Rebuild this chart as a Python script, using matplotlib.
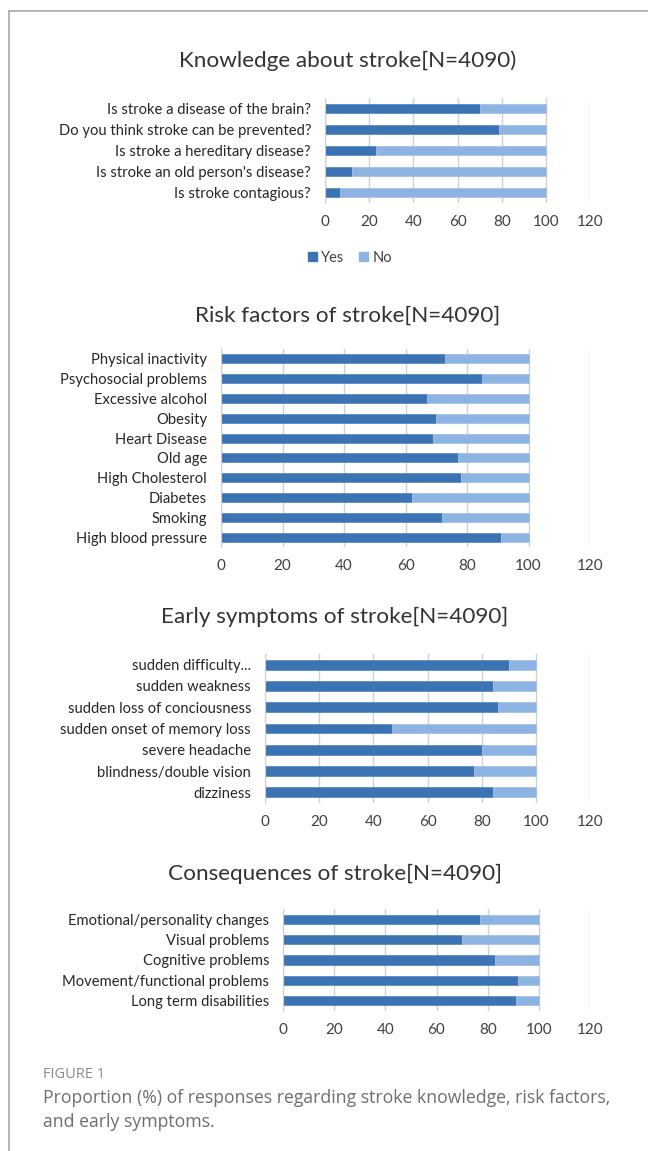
import matplotlib
matplotlib.use("Agg")
from matplotlib import pyplot as plt
from matplotlib.lines import Line2D
from matplotlib.patches import Patch
import numpy as np

plt.rcParams['font.family'] = ['Lato', 'DejaVu Sans']

YES_COLOR = '#3b73b3'
NO_COLOR = '#8db3e2'
GRID_COLOR = '#d0d0d0'
TEXT_COLOR = '#404040'

# data, top-to-bottom as in the picture
knowledge_labels = ['Is stroke a disease of the brain?',
                    'Do you think stroke can be prevented?',
                    'Is stroke a hereditary disease?',
                    "Is stroke an old person's disease?",
                    'Is stroke contagious?']
knowledge_yes = [70, 79, 23, 12, 7]

risk_labels = ['Physical inactivity', 'Psychosocial problems', 'Excessive alcohol',
               'Obesity', 'Heart Disease', 'Old age', 'High Cholesterol',
               'Diabetes', 'Smoking', 'High blood pressure']
risk_yes = [73, 85, 67, 70, 69, 77, 78, 62, 72, 91]

symptom_labels = ['sudden difficulty...', 'sudden weakness',
                  'sudden loss of conciousness', 'sudden onset of memory loss',
                  'severe headache', 'blindness/double vision', 'dizziness']
symptom_yes = [90, 84, 86, 47, 80, 77, 84]

consequence_labels = ['Emotional/personality changes', 'Visual problems',
                      'Cognitive problems', 'Movement/functional problems',
                      'Long term disabilities']
consequence_yes = [77, 70, 83, 92, 91]

x_ticks = [0, 20, 40, 60, 80, 100, 120]

W, H = 648, 1151
fig = plt.figure(figsize=(W / 100, H / 100), dpi=100)


def px_axes(left, top, right, bottom):
    return fig.add_axes([left / W, 1 - bottom / H, (right - left) / W, (bottom - top) / H])


def panel(left, top, bottom, labels, yes, title, title_x, title_y):
    ax = px_axes(left, top, 590, bottom)
    n = len(labels)
    yes = np.array(yes, dtype=float)
    no = 100 - yes
    y = np.arange(n)
    ax.barh(y, yes, height=0.46, color=YES_COLOR, edgecolor='#5a8cc6', linewidth=0.6)
    ax.barh(y, no, left=yes, height=0.46, color=NO_COLOR, edgecolor='#a4c2e8', linewidth=0.6)
    ax.set_ylim(n - 0.5, -0.5)
    ax.set_xlim(0, 120)
    ax.set_xticks(x_ticks)
    ax.set_yticks(y)
    ax.set_yticklabels(labels, fontsize=10.6, color='#262626')
    ax.tick_params(axis='y', length=0, pad=10)
    ax.tick_params(axis='x', length=0, pad=9, labelsize=11, labelcolor=TEXT_COLOR)
    ax.grid(axis='x', color=GRID_COLOR, linewidth=1)
    ax.set_axisbelow(True)
    for s in ['top', 'right', 'bottom']:
        ax.spines[s].set_visible(False)
    ax.spines['left'].set_color(GRID_COLOR)
    fig.text(title_x / W, 1 - title_y / H, title, ha='center', va='center',
             fontsize=16.2, color='#333333')
    return ax


panel(325, 98, 203, knowledge_labels, knowledge_yes, 'Knowledge about stroke[N=4090)', 348, 61)
panel(221, 349, 547, risk_labels, risk_yes, 'Risk factors of stroke[N=4090]', 348, 316)
panel(265, 654, 803, symptom_labels, symptom_yes, 'Early symptoms of stroke[N=4090]', 335, 617)
panel(283, 909, 1011, consequence_labels, consequence_yes, 'Consequences of stroke[N=4090]', 335, 874)

# legend of the first panel
handles = [Patch(color=YES_COLOR, label='Yes'), Patch(color=NO_COLOR, label='No')]
fig.legend(handles=handles, loc='center', bbox_to_anchor=(350 / W, 1 - 258 / H), ncol=2,
           frameon=False, fontsize=10.5, handlelength=0.6, handleheight=0.6,
           handletextpad=0.3, columnspacing=1.0, labelcolor=TEXT_COLOR)

# caption
fig.text(43 / W, 1 - 1075 / H, 'FIGURE 1', fontsize=10.5, color='#8a8a8a', va='center',
         family=['Open Sans', 'DejaVu Sans'])
fig.text(43 / W, 1 - 1110 / H,
         'Proportion (%) of responses regarding stroke knowledge, risk factors,\nand early symptoms.',
         fontsize=12.7, color='#6e6e6e', va='center', linespacing=1.45,
         family=['Open Sans', 'DejaVu Sans'])

# page frame lines
fig.add_artist(Line2D([9 / W, 1], [1 - 11 / H, 1 - 11 / H], color='#a8a8a8', linewidth=1.2))
fig.add_artist(Line2D([9 / W, 9 / W], [0, 1 - 11 / H], color='#a8a8a8', linewidth=1.2))

fig.savefig('out.png', dpi=100)
